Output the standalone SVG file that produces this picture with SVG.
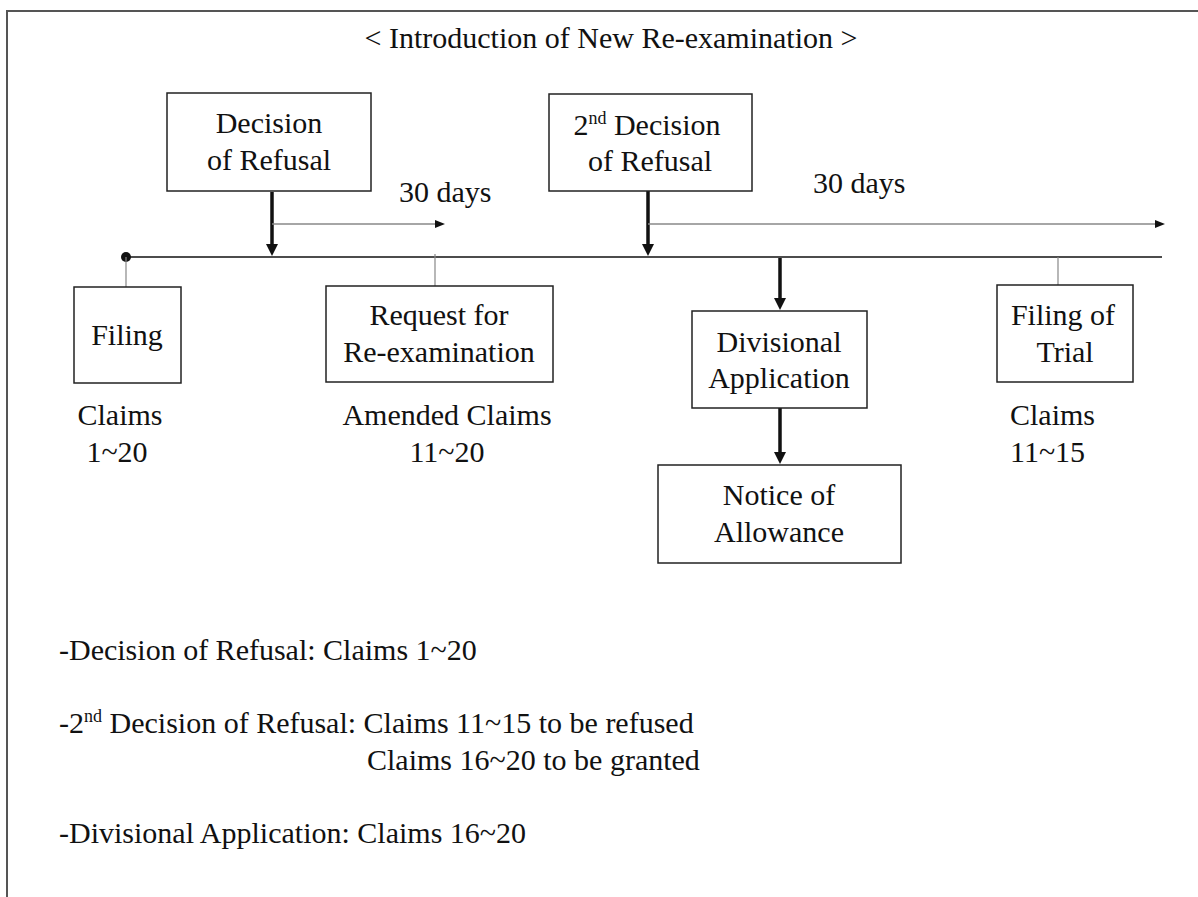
<svg xmlns="http://www.w3.org/2000/svg" width="1198" height="897" viewBox="0 0 1198 897" font-family="Liberation Serif, DejaVu Serif, serif">
<defs>
<style>
text{font-family:'Liberation Serif','DejaVu Serif',serif;font-size:30px;fill:#111}
.c{text-anchor:middle}
.box{fill:#fff;stroke:#222;stroke-width:1.5}
.thick{stroke:#111;stroke-width:3.5;fill:none;marker-end:url(#hThick)}
.thin{stroke:#888;stroke-width:1.5;fill:none;marker-end:url(#hThin)}
.tick{stroke:#888;stroke-width:1.2}
.sup{font-size:18px}
</style>
<marker id="hThick" viewBox="0 0 12 12" refX="3" refY="6" markerWidth="12" markerHeight="12" markerUnits="userSpaceOnUse" orient="auto"><path d="M0,0 L12,6 L0,12 z" fill="#111"/></marker>
<marker id="hThin" viewBox="0 0 10 8" refX="2" refY="4" markerWidth="10" markerHeight="8" markerUnits="userSpaceOnUse" orient="auto"><path d="M0,0 L10,4 L0,8 z" fill="#111"/></marker>
</defs>
<rect width="1198" height="897" fill="#fff"/>
<rect x="7" y="11" width="1200" height="900" fill="none" stroke="#555" stroke-width="2"/>
<text id="title" class="c" x="611" y="48">&lt; Introduction of New Re-examination &gt;</text>

<g id="connectors">
<line x1="126" y1="257" x2="1162" y2="257" stroke="#111" stroke-width="1.5"/>
<circle cx="126" cy="257" r="5" fill="#111"/>
<line class="tick" x1="126" y1="257" x2="126" y2="287"/>
<line class="tick" x1="435" y1="254" x2="435" y2="286"/>
<line class="tick" x1="1058" y1="257" x2="1058" y2="285"/>
<line class="thick" x1="272" y1="192" x2="272" y2="247"/>
<line class="thick" x1="648" y1="191" x2="648" y2="247"/>
<line class="thick" x1="780" y1="258" x2="780" y2="301"/>
<line class="thick" x1="780" y1="408" x2="780" y2="455"/>
<line class="thin" x1="272" y1="224" x2="437" y2="224"/>
<line class="thin" x1="648" y1="224" x2="1157" y2="224"/>
<text x="399" y="202">30 days</text>
<text x="813" y="193">30 days</text>
</g>

<g id="decision">
<rect class="box" x="167" y="93" width="204" height="98"/>
<text class="c" x="269" y="133">Decision</text>
<text class="c" x="269" y="170">of Refusal</text>
</g>

<g id="decision2">
<rect class="box" x="549" y="94" width="203" height="97"/>
<text class="c" x="647" y="135">2<tspan class="sup" dy="-11">nd</tspan><tspan dy="11"> Decision</tspan></text>
<text class="c" x="650" y="171">of Refusal</text>
</g>

<g id="filing">
<rect class="box" x="74" y="287" width="107" height="96"/>
<text class="c" x="127" y="345">Filing</text>
<text class="c" x="120" y="425">Claims</text>
<text class="c" x="117" y="462">1~20</text>
</g>

<g id="request">
<rect class="box" x="326" y="286" width="227" height="96"/>
<text class="c" x="439" y="325">Request for</text>
<text class="c" x="439" y="362">Re-examination</text>
<text class="c" x="447" y="425">Amended Claims</text>
<text class="c" x="447" y="462">11~20</text>
</g>

<g id="divisional">
<rect class="box" x="692" y="311" width="175" height="97"/>
<text class="c" x="779" y="352">Divisional</text>
<text class="c" x="779" y="388">Application</text>
</g>

<g id="allowance">
<rect class="box" x="658" y="465" width="243" height="98"/>
<text class="c" x="779" y="505">Notice of</text>
<text class="c" x="779" y="542">Allowance</text>
</g>

<g id="trial">
<rect class="box" x="997" y="285" width="136" height="97"/>
<text class="c" x="1063" y="325">Filing of</text>
<text class="c" x="1065" y="362">Trial</text>
<text x="1010" y="425">Claims</text>
<text x="1010" y="462">11~15</text>
</g>

<g id="notes">
<text x="59" y="660">-Decision of Refusal: Claims 1~20</text>
<text x="59" y="733">-2<tspan class="sup" dy="-11">nd</tspan><tspan dy="11"> Decision of Refusal: Claims 11~15 to be refused</tspan></text>
<text x="367" y="770">Claims 16~20 to be granted</text>
<text x="59" y="843">-Divisional Application: Claims 16~20</text>
</g>
</svg>
